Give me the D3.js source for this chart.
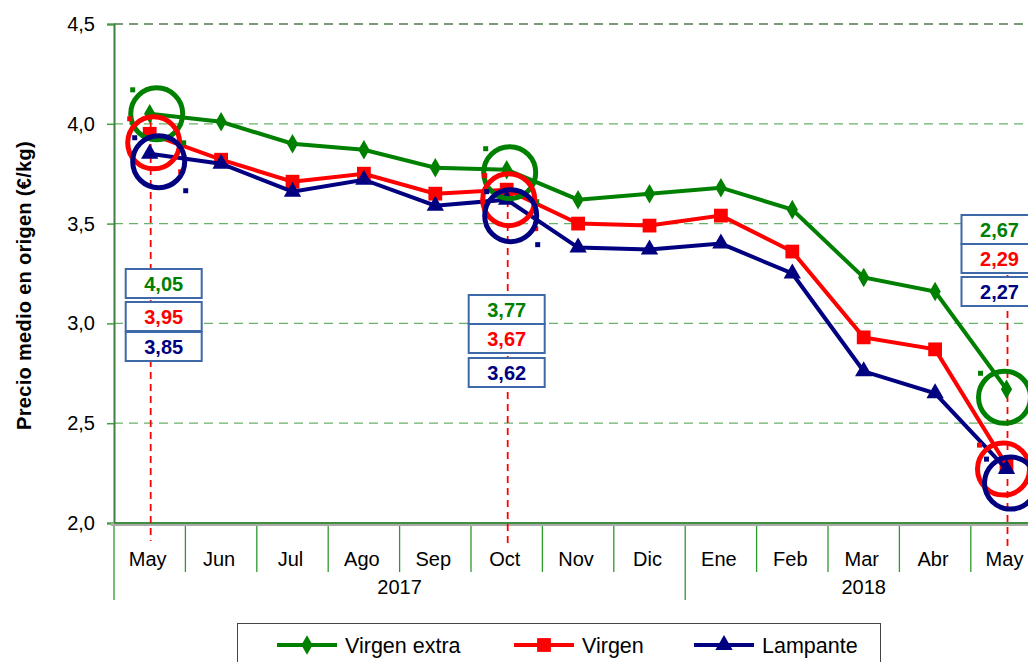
<!DOCTYPE html>
<html>
<head>
<meta charset="utf-8">
<script src="https://cdn.jsdelivr.net/npm/d3@7"></script>
<style>
  body { margin: 0; background: #fff; }
  svg { display: block; font-family: "Liberation Sans", Arial, sans-serif; }
</style>
</head>
<body>
<div id="chart"></div>
<script>
// categories (month, year)
var months = ['May', 'Jun', 'Jul', 'Ago', 'Sep', 'Oct', 'Nov', 'Dic', 'Ene', 'Feb', 'Mar', 'Abr', 'May'];
var years = [{ label: '2017', from: 0, to: 7 }, { label: '2018', from: 8, to: 12 }];
var yTicks = [2.0, 2.5, 3.0, 3.5, 4.0, 4.5];

var virgenExtra = [4.05, 4.01, 3.90, 3.87, 3.78, 3.77, 3.62, 3.65, 3.68, 3.57, 3.23, 3.16, 2.67];
var virgen = [3.95, 3.82, 3.71, 3.75, 3.65, 3.67, 3.50, 3.49, 3.54, 3.36, 2.93, 2.87, 2.29];
var lampante = [3.85, 3.80, 3.66, 3.72, 3.59, 3.62, 3.38, 3.37, 3.40, 3.25, 2.76, 2.65, 2.27];

var seriesNames = ['Virgen extra', 'Virgen', 'Lampante'];
var highlighted = [0, 5, 12];

var series = [
    { name: seriesNames[0], values: virgenExtra, color: '#008000', symbol: d3.symbolDiamond, size: 110 },
    { name: seriesNames[1], values: virgen, color: '#ff0000', symbol: d3.symbolSquare, size: 190 },
    { name: seriesNames[2], values: lampante, color: '#000080', symbol: d3.symbolTriangle, size: 130 },
];

var width = 1028, height = 662;
var plotLeft = 114, plotTop = 24, plotBottom = 523;
var band = 71.4;

var svg = d3.select('#chart').append('svg')
    .attr('width', width)
    .attr('height', height);

var idx = d3.range(months.length);
var x = d3.scaleBand().domain(idx).range([plotLeft, plotLeft + band * months.length]).padding(0);
var y = d3.scaleLinear().domain([2, 4.5]).range([plotBottom, plotTop]);
var cx = function(i) { return x(i) + x.bandwidth() / 2; };

var comma = d3.formatLocale({ decimal: ',', thousands: '.', grouping: [3], currency: ['', '€'] });
var f1 = comma.format('.1f');
var f2 = comma.format('.2f');

// grid lines
svg.append('g')
    .selectAll('line')
    .data(yTicks.filter(function(t) { return t > 2; }))
    .enter()
    .append('line')
    .attr('x1', plotLeft)
    .attr('x2', width)
    .attr('y1', function(d) { return y(d); })
    .attr('y2', function(d) { return y(d); })
    .attr('stroke', function(d) { return d === 4.5 ? '#7a9a7a' : '#6aaf6a'; })
    .attr('stroke-width', function(d) { return d === 4.5 ? 2 : 1.2; })
    .attr('stroke-dasharray', '9,6');

// y axis
var yAxis = svg.append('g')
    .attr('transform', 'translate(' + plotLeft + ',0)')
    .call(d3.axisLeft(y).tickValues(yTicks).tickFormat(f1).tickSize(7).tickPadding(12));
yAxis.select('.domain').attr('stroke', '#3f7f3f').attr('stroke-width', 2);
yAxis.selectAll('.tick line').attr('stroke', '#3f9f3f').attr('stroke-width', 1.5);
yAxis.selectAll('.tick text').attr('font-size', 20).attr('fill', '#000').attr('font-family', null);

svg.append('text')
    .attr('transform', 'translate(31,' + ((plotTop + plotBottom) / 2 + 12) + ') rotate(-90)')
    .attr('text-anchor', 'middle')
    .attr('font-size', 20)
    .attr('font-weight', 'bold')
    .attr('letter-spacing', 0.3)
    .text('Precio medio en origen (€/kg)');

// x axis: category separators
var seps = d3.range(months.length + 1);
svg.append('g')
    .selectAll('line')
    .data(seps)
    .enter()
    .append('line')
    .attr('x1', function(d) { return plotLeft + band * d; })
    .attr('x2', function(d) { return plotLeft + band * d; })
    .attr('y1', plotBottom)
    .attr('y2', function(d) { return (d === 0 || d === 8) ? 600 : 572; })
    .attr('stroke', '#2e9a2e')
    .attr('stroke-width', 1.3);

svg.append('line')
    .attr('x1', plotLeft - 3).attr('x2', width)
    .attr('y1', plotBottom + 1.5).attr('y2', plotBottom + 1.5)
    .attr('stroke', '#aaaaaa').attr('stroke-width', 3);
svg.append('line')
    .attr('x1', plotLeft).attr('x2', width)
    .attr('y1', plotBottom).attr('y2', plotBottom)
    .attr('stroke', '#3f8f3f').attr('stroke-width', 2);

svg.append('g')
    .selectAll('text')
    .data(months)
    .enter()
    .append('text')
    .attr('x', function(d, i) { return cx(i) - 2; })
    .attr('y', 566)
    .attr('text-anchor', 'middle')
    .attr('font-size', 20)
    .text(function(d) { return d; });

svg.append('g')
    .selectAll('text')
    .data(years)
    .enter()
    .append('text')
    .attr('x', function(d) { return (x(d.from) + x(d.to) + band) / 2; })
    .attr('y', 594)
    .attr('text-anchor', 'middle')
    .attr('font-size', 20)
    .text(function(d) { return d.label; });

// dashed red verticals for highlighted months
var vEnds = [[120, 541], [200, 546], [275, 546]];
svg.append('g')
    .selectAll('line')
    .data(highlighted)
    .enter()
    .append('line')
    .attr('x1', function(d) { return cx(d) + 1; })
    .attr('x2', function(d) { return cx(d) + 1; })
    .attr('y1', function(d, i) { return vEnds[i][0]; })
    .attr('y2', function(d, i) { return vEnds[i][1]; })
    .attr('stroke', '#ff0000')
    .attr('stroke-width', 1.8)
    .attr('stroke-dasharray', '7,5');

// lines and markers
var line = d3.line()
    .x(function(d, i) { return cx(i); })
    .y(function(d) { return y(d); });

series.forEach(function(s) {
    var g = svg.append('g');
    g.append('path')
        .attr('d', line(s.values))
        .attr('fill', 'none')
        .attr('stroke', s.color)
        .attr('stroke-width', 4);
    g.selectAll('path.m')
        .data(s.values)
        .enter()
        .append('path')
        .attr('class', 'm')
        .attr('transform', function(d, i) { return 'translate(' + cx(i) + ',' + y(d) + ')'; })
        .attr('d', d3.symbol().type(s.symbol).size(s.size))
        .attr('fill', s.color);
});

// highlight circles (offset from the point) and their little selection handles
var circleOffset = [
    [[7, 0], [4, 9], [9, 8]],
    [[3, 3], [2, 10], [4, 16]],
    [[-2, 8], [-3, 4], [4, 14]],
];
series.forEach(function(s, si) {
    highlighted.forEach(function(h, hi) {
        var off = circleOffset[hi][si];
        var ccx = cx(h) + off[0];
        var ccy = y(s.values[h]) + off[1];
        var r = 26;
        svg.append('circle')
            .attr('cx', ccx).attr('cy', ccy).attr('r', r)
            .attr('fill', 'none')
            .attr('stroke', s.color)
            .attr('stroke-width', 5);
        [[-r + 2, -r + 2], [r + 1, r + 3]].forEach(function(o) {
            svg.append('rect')
                .attr('x', ccx + o[0] - 2.5).attr('y', ccy + o[1] - 2.5)
                .attr('width', 5).attr('height', 5)
                .attr('fill', s.color);
        });
    });
});

// value boxes
var boxes = [
    { at: 0, dx: -24, ys: [269, 302, 332] },
    { at: 5, dx: -38, ys: [295, 324, 358] },
    { at: 12, dx: -45, ys: [215, 244, 277] },
];
boxes.forEach(function(b) {
    series.forEach(function(s, si) {
        var bx = cx(b.at) + b.dx;
        var by = b.ys[si];
        svg.append('rect')
            .attr('x', bx).attr('y', by)
            .attr('width', 76).attr('height', 29)
            .attr('fill', '#fff')
            .attr('stroke', '#3d69a8')
            .attr('stroke-width', 2);
        svg.append('text')
            .attr('x', bx + 38).attr('y', by + 22)
            .attr('text-anchor', 'middle')
            .attr('font-size', 20)
            .attr('font-weight', 'bold')
            .attr('fill', s.color)
            .text(f2(s.values[b.at]));
    });
});

// legend
var legend = svg.append('g');
legend.append('rect')
    .attr('x', 237.5).attr('y', 623.5)
    .attr('width', 643).attr('height', 60)
    .attr('fill', '#fff')
    .attr('stroke', '#444')
    .attr('stroke-width', 1);
var legX = [277, 514, 694];
series.forEach(function(s, i) {
    var g = legend.append('g').attr('transform', 'translate(' + legX[i] + ',645)');
    g.append('line')
        .attr('x1', 0).attr('x2', 60)
        .attr('stroke', s.color).attr('stroke-width', 4);
    g.append('path')
        .attr('transform', 'translate(30,0)')
        .attr('d', d3.symbol().type(s.symbol).size(s.size))
        .attr('fill', s.color);
    g.append('text')
        .attr('x', 68).attr('y', 8)
        .attr('font-size', 21.5)
        .text(s.name);
});
</script>
</body>
</html>
